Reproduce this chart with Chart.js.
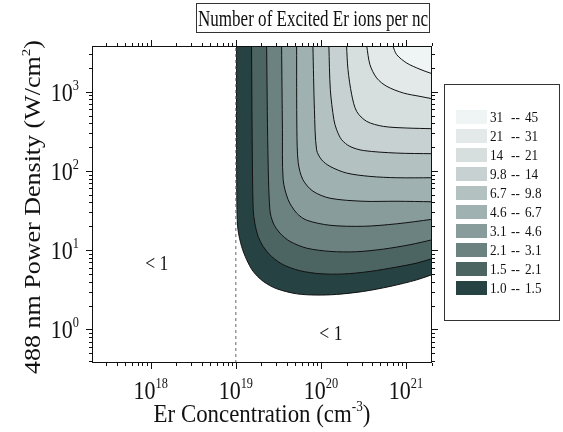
<!DOCTYPE html>
<html>
<head>
<meta charset="utf-8">
<script src="https://cdn.jsdelivr.net/npm/chart.js@4.4.0/dist/chart.umd.min.js"></script>
<style>
    html, body { margin: 0; padding: 0; background: #fff; }
</style>
</head>
<body>
<canvas id="contourChart" width="563" height="432"></canvas>
<script>
// Band edges and fill colours, lowest band first
const bandEdges = ['1.0', '1.5', '2.1', '3.1', '4.6', '6.7', '9.8', '14', '21', '31', '45'];
const bandColors = ['#274242', '#4c6563', '#6c8280', '#889c9b', '#9fb1b0',
                    '#b3c1c1', '#c7d1d1', '#d6dede', '#e3e9e9', '#eff4f4'];

// Contour lines as [Er concentration (cm^-3), power density (W/cm^2)]
const contour1p0 = [[1.02e19, 3800], [1.02e19, 185], [1.03e19, 32.4], [1.06e19, 18.1], [1.17e19, 11.1],
    [1.34e19, 7.57], [1.60e19, 5.38], [2.10e19, 4.03], [3.01e19, 3.26], [5.18e19, 2.81], [8.89e19, 2.71],
    [1.53e20, 2.76], [3.15e20, 3.01], [6.48e20, 3.48], [1.34e21, 4.22], [2.51e21, 5.33]];
const contour1p5 = [[1.53e19, 3800], [1.56e19, 185], [1.60e19, 32.4], [1.67e19, 22.0], [1.83e19, 14.9],
    [2.10e19, 11.1], [2.63e19, 8.32], [3.60e19, 6.55], [5.66e19, 5.50], [9.73e19, 5.04], [1.83e20, 5.00],
    [3.77e20, 5.38], [7.78e20, 6.12], [1.34e21, 6.87], [2.02e21, 7.79], [2.51e21, 8.26]];
const contour2p1 = [[2.30e19, 3800], [2.38e19, 185], [2.51e19, 32.4], [2.75e19, 22.0], [3.30e19, 16.4],
    [4.32e19, 12.9], [6.79e19, 10.6], [1.28e20, 9.64], [2.63e20, 9.55], [5.41e20, 10.3], [1.11e21, 11.7],
    [2.02e21, 13.5], [2.51e21, 14.3]];
const contour3p1 = [[3.45e19, 3800], [3.53e19, 331], [3.60e19, 77.5], [4.12e19, 43.3], [5.18e19, 29.4],
    [6.79e19, 23.9], [1.28e20, 20.6], [3.15e20, 20.0], [7.78e20, 21.5], [2.02e21, 24.5], [2.51e21, 25.6]];
const contour4p6 = [[5.18e19, 3800], [5.22e19, 331], [5.41e19, 127], [6.14e19, 77.5], [8.05e19, 55.5],
    [1.28e20, 45.2], [3.12e20, 41.4], [7.83e20, 41.4], [2.02e21, 40.8], [2.51e21, 40.6]];
const contour6p7 = [[8.05e19, 3800], [8.39e19, 593], [8.89e19, 185], [1.02e20, 138], [1.28e20, 114],
    [2.00e20, 94.0], [3.77e20, 85.3], [7.78e20, 82.0], [2.02e21, 82.0], [2.51e21, 82.0]];
const contour9p8 = [[1.24e20, 3800], [1.29e20, 1060], [1.42e20, 443], [1.53e20, 331], [1.75e20, 248],
    [2.19e20, 204], [3.15e20, 181], [7.78e20, 168], [2.02e21, 165], [2.51e21, 165]];
const contour14 = [[2.00e20, 3800], [2.08e20, 1900], [2.30e20, 916], [2.63e20, 564], [3.45e20, 422],
    [5.41e20, 365], [1.02e21, 348], [2.02e21, 341], [2.51e21, 336]];
const contour21 = [[3.45e20, 3800], [3.77e20, 2190], [4.52e20, 1490], [5.93e20, 1170], [9.30e20, 963],
    [1.46e21, 873], [2.02e21, 817], [2.51e21, 792]];
const contour31 = [[6.98e20, 3800], [7.78e20, 2930], [1.02e21, 2300], [1.46e21, 1920], [2.02e21, 1690],
    [2.51e21, 1590]];

// Threshold concentration (dashed line) and the "< 1" region notes
const thresholdC = 1e19;
const belowOneNotes = [[1.18e18, 6.9], [1.31e20, 0.91]];

// Axis ranges and labelled decades
const xRange = [2.04e17, 2.02e21];
const yRange = [0.376, 3776];
const xTickExps = [18, 19, 20, 21];
const yTickExps = [0, 1, 2, 3];

const FONT = '"Liberation Serif", "Times New Roman", serif';
const SQUEEZE = 0.88;

const contours = [contour1p0, contour1p5, contour2p1, contour3p1, contour4p6,
                  contour6p7, contour9p8, contour14, contour21, contour31];

// Draws a run of text pieces (with optional superscripts) aligned at x, baseline y
function drawRich(ctx, parts, x, y, align, rotate, squeeze) {
    const sq = squeeze || SQUEEZE;
    ctx.save();
    ctx.translate(x, y);
    if (rotate) {
        ctx.rotate(-Math.PI / 2);
        ctx.scale(1, sq);
    } else {
        ctx.scale(sq, 1);
    }
    let total = 0;
    parts.forEach(p => {
        ctx.font = p.size + 'px ' + FONT;
        p.w = ctx.measureText(p.text).width;
        total += p.w;
    });
    let cx = align === 'center' ? -total / 2 : (align === 'right' ? -total : 0);
    ctx.fillStyle = '#111';
    ctx.textBaseline = 'alphabetic';
    ctx.textAlign = 'left';
    parts.forEach(p => {
        ctx.font = p.size + 'px ' + FONT;
        ctx.fillText(p.text, cx, -(p.rise || 0));
        cx += p.w;
    });
    ctx.restore();
}

function powLabel(exp) {
    return [{ text: '10', size: 25 }, { text: String(exp), size: 14, rise: 11 }];
}

// Minor + major tick values inside an axis range
function logTicks(min, max) {
    const out = [];
    for (let e = Math.floor(Math.log10(min)); e <= Math.ceil(Math.log10(max)); e++) {
        for (let k = 1; k <= 9; k++) {
            const v = k * Math.pow(10, e);
            if (v >= min && v <= max) out.push({ v, major: k === 1 });
        }
    }
    return out;
}

const framePlugin = {
    id: 'framePlugin',
    afterDraw(chart) {
        const ctx = chart.ctx;
        const { left, right, top, bottom } = chart.chartArea;
        const xs = chart.scales.x, ys = chart.scales.y;

        ctx.save();
        ctx.strokeStyle = '#111';
        ctx.lineWidth = 1;
        ctx.strokeRect(left + 0.5, top + 0.5, right - left - 1, bottom - top - 1);

        // outward ticks on all four sides
        ctx.beginPath();
        logTicks(xRange[0], xRange[1]).forEach(t => {
            const px = Math.round(xs.getPixelForValue(t.v)) + 0.5;
            const len = t.major ? 6 : 3;
            ctx.moveTo(px, bottom); ctx.lineTo(px, bottom + len);
            ctx.moveTo(px, top); ctx.lineTo(px, top - len);
        });
        logTicks(yRange[0], yRange[1]).forEach(t => {
            const py = Math.round(ys.getPixelForValue(t.v)) + 0.5;
            const len = t.major ? 6 : 3;
            ctx.moveTo(left, py); ctx.lineTo(left - len, py);
            ctx.moveTo(right, py); ctx.lineTo(right + len, py);
        });
        ctx.stroke();

        xTickExps.forEach(e => {
            drawRich(ctx, powLabel(e), xs.getPixelForValue(Math.pow(10, e)), 399, 'center');
        });
        yTickExps.forEach(e => {
            drawRich(ctx, powLabel(e), 79, ys.getPixelForValue(Math.pow(10, e)) + 9, 'right');
        });

        // axis titles
        drawRich(ctx, [{ text: 'Er Concentration (cm', size: 26 },
                       { text: '-3', size: 15, rise: 11 },
                       { text: ')', size: 26 }], 262, 422, 'center');
        drawRich(ctx, [{ text: '488 nm Power Density (W/cm', size: 26 },
                       { text: '2', size: 15, rise: 11 },
                       { text: ')', size: 26 }], 40, 207, 'center', true);

        // "< 1" notes
        belowOneNotes.forEach(([c, p]) => {
            drawRich(ctx, [{ text: '< 1', size: 20 }], xs.getPixelForValue(c), ys.getPixelForValue(p) + 7, 'center');
        });

        // title box
        ctx.strokeStyle = '#333';
        ctx.strokeRect(196.5, 3.5, 233, 29);
        drawRich(ctx, [{ text: 'Number of Excited Er ions per nc', size: 24 }], 313, 26, 'center', false, 0.71);

        // legend
        ctx.strokeRect(444.5, 84.5, 115, 236);
        for (let i = 0; i < bandColors.length; i++) {
            const band = bandColors.length - 1 - i;
            const y = 110 + i * 19;
            ctx.fillStyle = bandColors[band];
            ctx.fillRect(456, y, 31, 14);
            drawRich(ctx, [{ text: bandEdges[band], size: 15 }], 490, y + 12, 'left');
            drawRich(ctx, [{ text: '--', size: 15 }], 511, y + 12, 'left');
            drawRich(ctx, [{ text: bandEdges[band + 1], size: 15 }], 525, y + 12, 'left');
        }
        ctx.restore();
    }
};

// Highest level first: lines are painted last-to-first, so the darkest band goes down first
const datasets = [{
    data: [{ x: thresholdC, y: yRange[0] }, { x: thresholdC, y: yRange[1] }],
    borderColor: '#666',
    borderWidth: 1,
    borderDash: [3, 3],
    pointRadius: 0,
    fill: false
}];
for (let i = contours.length - 1; i >= 0; i--) {
    datasets.push({
        data: contours[i].map(([c, p]) => ({ x: c, y: p })),
        borderColor: '#111',
        borderWidth: 1,
        backgroundColor: bandColors[i],
        pointRadius: 0,
        tension: 0.3,
        fill: 'end'
    });
}

new Chart(document.getElementById('contourChart'), {
    type: 'line',
    data: { datasets },
    options: {
        responsive: false,
        animation: false,
        events: [],
        layout: { padding: { left: 92, top: 46, right: 131, bottom: 69 } },
        scales: {
            x: { type: 'logarithmic', min: xRange[0], max: xRange[1], display: false },
            y: { type: 'logarithmic', min: yRange[0], max: yRange[1], display: false }
        },
        plugins: {
            legend: { display: false },
            tooltip: { enabled: false },
            filler: { drawTime: 'beforeDatasetsDraw' }
        }
    },
    plugins: [framePlugin]
});
</script>
</body>
</html>
